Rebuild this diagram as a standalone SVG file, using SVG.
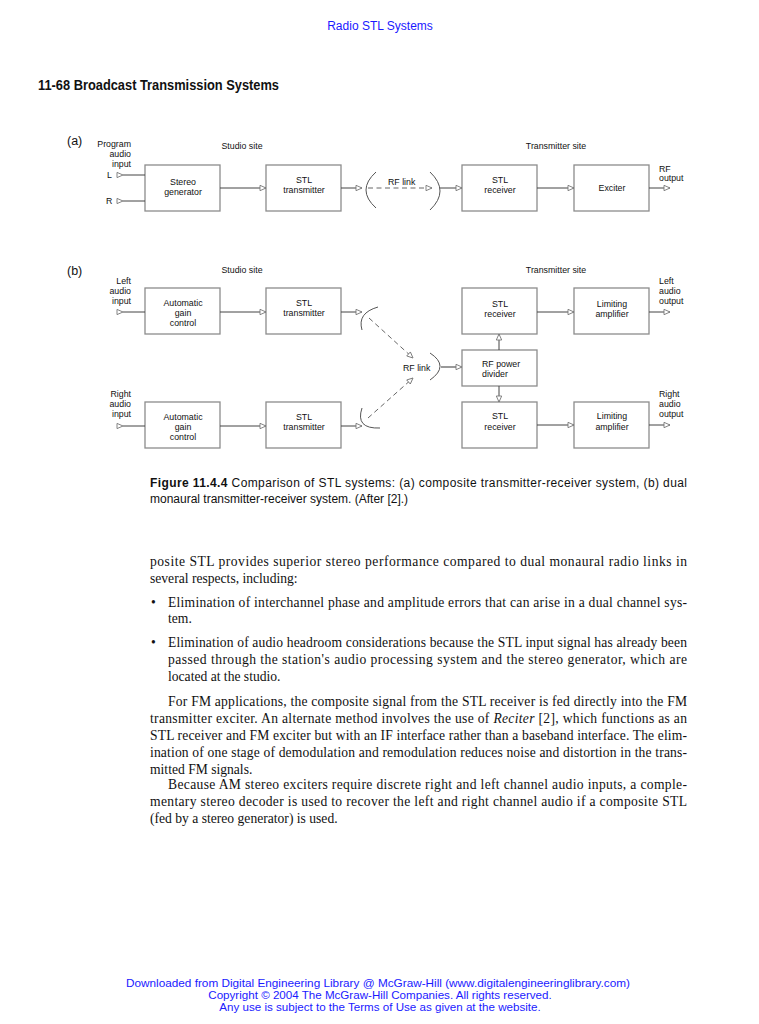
<svg xmlns="http://www.w3.org/2000/svg" xmlns:xlink="http://www.w3.org/1999/xlink" width="759" height="1024" viewBox="0 0 759 1024">
<style>
.bx{fill:#fff;stroke:#8c8c8c;stroke-width:1.3}
.ln{fill:none;stroke:#444;stroke-width:1}
.dl{fill:none;stroke:#555;stroke-width:0.9;stroke-dasharray:5,3.5}
.arc{fill:none;stroke:#555;stroke-width:1}
.ah{fill:#fff;stroke:#777;stroke-width:0.9}
.t{font-family:"Liberation Sans",Arial,sans-serif;font-size:8.8px;fill:#111}
.c{text-anchor:middle}
.e{text-anchor:end}
.lbl{font-family:"Liberation Sans",Arial,sans-serif;font-size:12.5px;fill:#111}
.body{font-family:"Liberation Serif","Times New Roman",serif;font-size:13.6px;fill:#111}
.cap{font-family:"Liberation Sans",Arial,sans-serif;font-size:12px;fill:#111}
.blue{font-family:"Liberation Sans",Arial,sans-serif;fill:#1a1aff}
</style>
<defs>
<path id="tri" d="M-6,-2.6 L0,0 L-6,2.6 Z" class="ah"/>
<marker id="ar" markerUnits="userSpaceOnUse" markerWidth="8" markerHeight="7" refX="7" refY="3.5" orient="auto" viewBox="0 0 8 7">
<path d="M1,0.8 L7,3.5 L1,6.2 Z" class="ah"/>
</marker>
</defs>

<text class="blue c" x="380" y="30" font-size="12">Radio STL Systems</text>
<text x="38" y="90" font-family="'Liberation Sans',Arial,sans-serif" font-weight="bold" font-size="15" textLength="241" lengthAdjust="spacingAndGlyphs" fill="#111">11-68 Broadcast Transmission Systems</text>

<!-- (a) -->
<g id="a-labels">
<text class="lbl" x="67" y="145">(a)</text>
<text class="t e" x="131" y="147">Program</text>
<text class="t e" x="131" y="157">audio</text>
<text class="t e" x="131" y="167">input</text>
<text class="t" x="107" y="178">L</text>
<text class="t" x="106" y="204">R</text>
<text class="t c" x="242" y="149">Studio site</text>
<text class="t c" x="556" y="149">Transmitter site</text>
<text class="t" x="659" y="172">RF</text>
<text class="t" x="659" y="181">output</text>
</g>
<g id="a-stereo"><rect class="bx" x="145" y="165" width="75" height="46"/><text class="t c" x="183" y="185">Stereo</text><text class="t c" x="183" y="195">generator</text></g>
<g id="a-stltx"><rect class="bx" x="266" y="165" width="75" height="46"/><text class="t c" x="304" y="183">STL</text><text class="t c" x="304" y="193">transmitter</text></g>
<g id="a-rflink"><path class="arc" d="M376,172 Q356,190 376,208"/><path class="arc" d="M430,172 Q450,191 430,210"/><text class="t" x="388" y="184.5">RF link</text></g>
<g id="a-stlrx"><rect class="bx" x="462" y="165" width="75" height="46"/><text class="t c" x="500" y="183">STL</text><text class="t c" x="500" y="193">receiver</text></g>
<g id="a-exciter"><rect class="bx" x="574" y="165" width="75" height="46"/><text class="t c" x="612" y="191">Exciter</text></g>

<!-- (b) -->
<g id="b-labels">
<text class="lbl" x="67" y="275">(b)</text>
<text class="t c" x="242" y="273">Studio site</text>
<text class="t c" x="556" y="273">Transmitter site</text>
<text class="t e" x="131" y="284">Left</text>
<text class="t e" x="131" y="294">audio</text>
<text class="t e" x="131" y="304">input</text>
<text class="t e" x="131" y="397">Right</text>
<text class="t e" x="131" y="407">audio</text>
<text class="t e" x="131" y="417">input</text>
<text class="t" x="659" y="284">Left</text>
<text class="t" x="659" y="294">audio</text>
<text class="t" x="659" y="304">output</text>
<text class="t" x="659" y="397">Right</text>
<text class="t" x="659" y="407">audio</text>
<text class="t" x="659" y="417">output</text>
</g>
<g id="b-agc1"><rect class="bx" x="145" y="288" width="75" height="46"/><text class="t c" x="183" y="306">Automatic</text><text class="t c" x="183" y="316">gain</text><text class="t c" x="183" y="326">control</text></g>
<g id="b-stltx1"><rect class="bx" x="266" y="288" width="75" height="46"/><text class="t c" x="304" y="306">STL</text><text class="t c" x="304" y="316">transmitter</text></g>
<g id="b-agc2"><rect class="bx" x="145" y="402" width="75" height="46"/><text class="t c" x="183" y="420">Automatic</text><text class="t c" x="183" y="430">gain</text><text class="t c" x="183" y="440">control</text></g>
<g id="b-stltx2"><rect class="bx" x="266" y="402" width="75" height="46"/><text class="t c" x="304" y="420">STL</text><text class="t c" x="304" y="430">transmitter</text></g>
<g id="b-ant1"><path class="arc" d="M378,307 Q357,313 362,330"/></g>
<g id="b-ant2"><path class="arc" d="M362,408 Q355,429 380,428"/></g>
<g id="b-rflink"><path class="arc" d="M430,353 Q450,366 430,380"/><text class="t" x="403" y="371">RF link</text></g>
<g id="b-stlrx1"><rect class="bx" x="462" y="288" width="75" height="46"/><text class="t c" x="500" y="307">STL</text><text class="t c" x="500" y="317">receiver</text></g>
<g id="b-div"><rect class="bx" x="462" y="350" width="75" height="36"/><text class="t" x="482" y="367">RF power</text><text class="t" x="482" y="377">divider</text></g>
<g id="b-stlrx2"><rect class="bx" x="462" y="402" width="75" height="46"/><text class="t c" x="500" y="419">STL</text><text class="t c" x="500" y="430">receiver</text></g>
<g id="b-lim1"><rect class="bx" x="574" y="288" width="75" height="46"/><text class="t c" x="612" y="307">Limiting</text><text class="t c" x="612" y="317">amplifier</text></g>
<g id="b-lim2"><rect class="bx" x="574" y="402" width="75" height="46"/><text class="t c" x="612" y="419">Limiting</text><text class="t c" x="612" y="430">amplifier</text></g>

<g id="connectors">
<!-- (a) -->
<line class="ln" x1="123" y1="175" x2="145" y2="175"/><use xlink:href="#tri" transform="translate(123,175)"/>
<line class="ln" x1="123" y1="201" x2="145" y2="201"/><use xlink:href="#tri" transform="translate(123,201)"/>
<line class="ln" x1="220" y1="188" x2="266" y2="188" marker-end="url(#ar)"/>
<line class="ln" x1="341" y1="188" x2="362" y2="188" marker-end="url(#ar)"/>
<line class="dl" x1="368" y1="188" x2="432" y2="188" marker-end="url(#ar)"/>
<line class="ln" x1="440" y1="188" x2="462" y2="188" marker-end="url(#ar)"/>
<line class="ln" x1="537" y1="188" x2="574" y2="188" marker-end="url(#ar)"/>
<line class="ln" x1="649" y1="188" x2="670" y2="188" marker-end="url(#ar)"/>
<!-- (b) -->
<line class="ln" x1="123" y1="312" x2="145" y2="312"/><use xlink:href="#tri" transform="translate(123,312)"/>
<line class="ln" x1="220" y1="312" x2="266" y2="312" marker-end="url(#ar)"/>
<line class="ln" x1="341" y1="312" x2="362" y2="312" marker-end="url(#ar)"/>
<line class="ln" x1="123" y1="426" x2="145" y2="426"/><use xlink:href="#tri" transform="translate(123,426)"/>
<line class="ln" x1="220" y1="426" x2="266" y2="426" marker-end="url(#ar)"/>
<line class="ln" x1="341" y1="426" x2="362" y2="426" marker-end="url(#ar)"/>
<line class="dl" x1="369" y1="318" x2="413" y2="358" marker-end="url(#ar)"/>
<line class="dl" x1="368" y1="418" x2="413" y2="378" marker-end="url(#ar)"/>
<line x1="441" y1="367" x2="462" y2="367" stroke="#999" stroke-width="2" marker-end="url(#ar)"/>
<line class="ln" x1="499" y1="350" x2="499" y2="334" marker-end="url(#ar)"/>
<line class="ln" x1="499" y1="386" x2="499" y2="402" marker-end="url(#ar)"/>
<line class="ln" x1="537" y1="312" x2="574" y2="312" marker-end="url(#ar)"/>
<line class="ln" x1="649" y1="312" x2="670" y2="312" marker-end="url(#ar)"/>
<line class="ln" x1="537" y1="425" x2="574" y2="425" marker-end="url(#ar)"/>
<line class="ln" x1="649" y1="425" x2="670" y2="425" marker-end="url(#ar)"/>
</g>

<!-- caption -->
<text class="cap" x="150" y="487" textLength="537" lengthAdjust="spacing"><tspan font-weight="bold">Figure 11.4.4</tspan> Comparison of STL systems: (a) composite transmitter-receiver system, (b) dual</text>
<text class="cap" x="150" y="503">monaural transmitter-receiver system. (After [2].)</text>

<!-- body -->
<g class="body">
<text x="150" y="566" textLength="537" lengthAdjust="spacing">posite STL provides superior stereo performance compared to dual monaural radio links in</text>
<text x="150" y="583">several respects, including:</text>
<text x="151" y="607">•</text>
<text x="168" y="607" textLength="519" lengthAdjust="spacing">Elimination of interchannel phase and amplitude errors that can arise in a dual channel sys-</text>
<text x="168" y="623">tem.</text>
<text x="151" y="647">•</text>
<text x="168" y="647" textLength="519" lengthAdjust="spacing">Elimination of audio headroom considerations because the STL input signal has already been</text>
<text x="168" y="664" textLength="519" lengthAdjust="spacing">passed through the station's audio processing system and the stereo generator, which are</text>
<text x="168" y="681">located at the studio.</text>
<text x="168" y="706" textLength="519" lengthAdjust="spacing">For FM applications, the composite signal from the STL receiver is fed directly into the FM</text>
<text x="150" y="723" textLength="537" lengthAdjust="spacing">transmitter exciter. An alternate method involves the use of <tspan font-style="italic">Reciter</tspan> [2], which functions as an</text>
<text x="150" y="740" textLength="537" lengthAdjust="spacing">STL receiver and FM exciter but with an IF interface rather than a baseband interface. The elim-</text>
<text x="150" y="757" textLength="537" lengthAdjust="spacing">ination of one stage of demodulation and remodulation reduces noise and distortion in the trans-</text>
<text x="150" y="774">mitted FM signals.</text>
<text x="168" y="789" textLength="519" lengthAdjust="spacing">Because AM stereo exciters require discrete right and left channel audio inputs, a comple-</text>
<text x="150" y="806" textLength="537" lengthAdjust="spacing">mentary stereo decoder is used to recover the left and right channel audio if a composite STL</text>
<text x="150" y="823">(fed by a stereo generator) is used.</text>
</g>

<!-- footer -->
<g class="blue" font-size="11.6">
<text x="378" y="987" text-anchor="middle" textLength="504" lengthAdjust="spacingAndGlyphs">Downloaded from Digital Engineering Library @ McGraw-Hill (www.digitalengineeringlibrary.com)</text>
<text x="380" y="999" text-anchor="middle">Copyright © 2004 The McGraw-Hill Companies. All rights reserved.</text>
<text x="380" y="1011" text-anchor="middle">Any use is subject to the Terms of Use as given at the website.</text>
</g>
</svg>
